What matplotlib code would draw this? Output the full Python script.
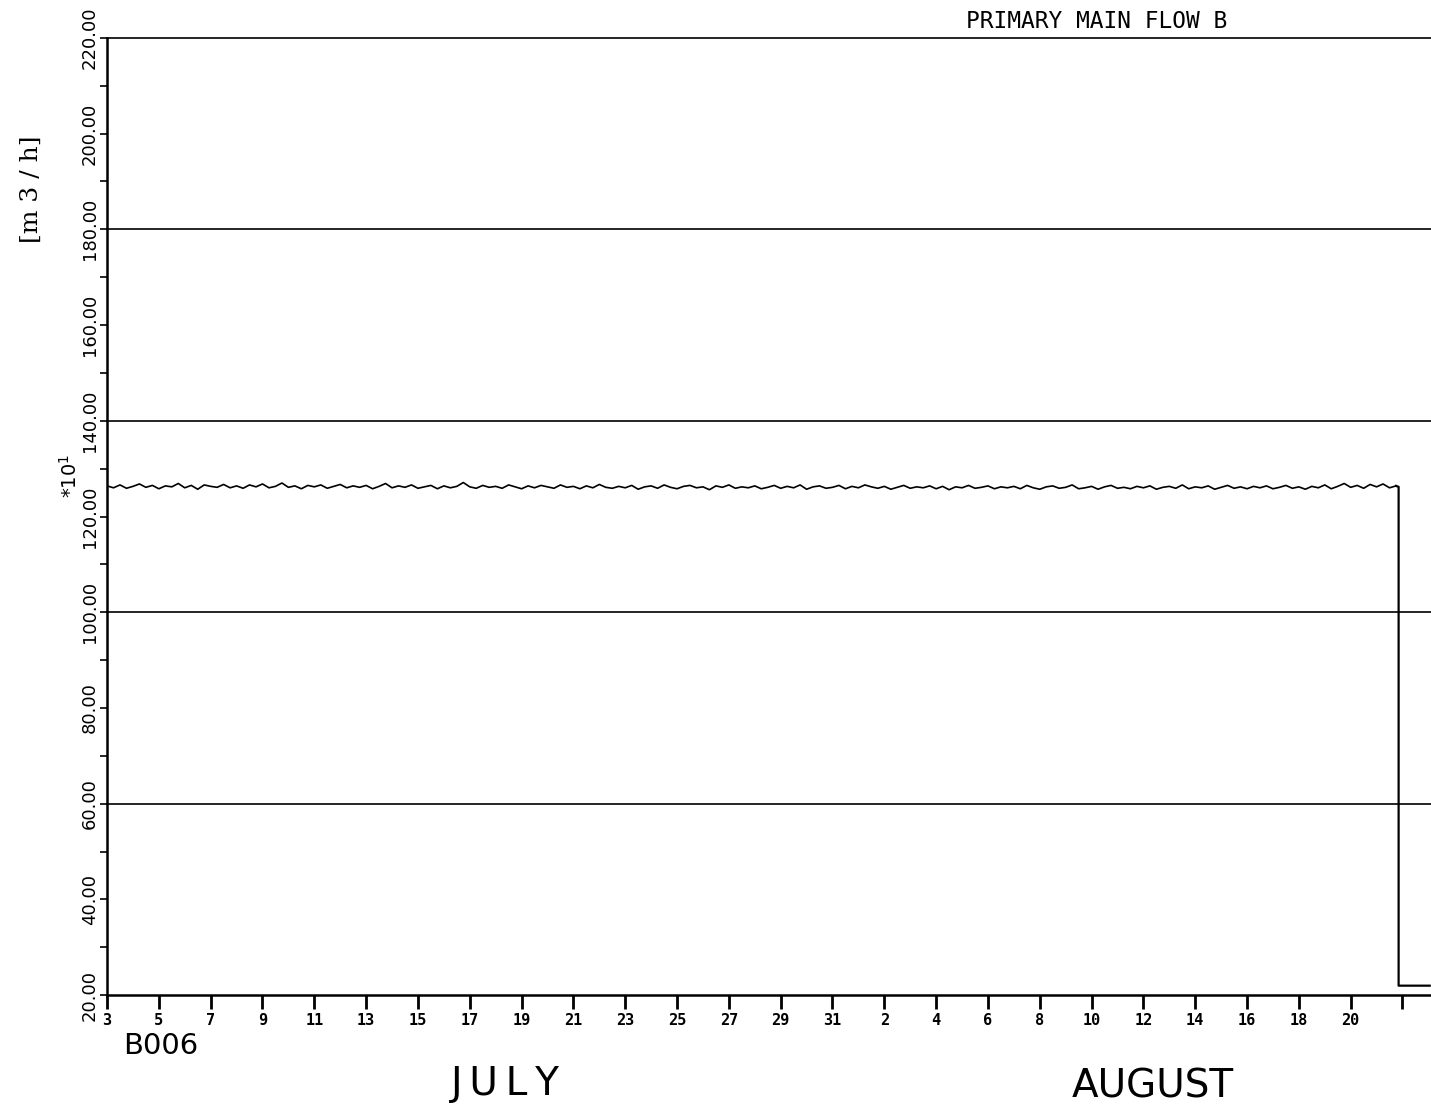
import numpy as np
import matplotlib
matplotlib.use("Agg")
import matplotlib.pyplot as plt

# flow readings (*10^1 m3/h), sampled every 6 hours from July 3
flow_values = [
    126.4, 126.0, 126.6, 125.9, 126.3, 126.8, 126.1, 126.5, 125.8, 126.4, 126.2, 126.9, 126.0, 126.5, 125.7, 126.6, 126.3, 126.1, 126.7, 126.0,
    126.4, 125.9, 126.6, 126.2, 126.8, 126.0, 126.3, 127.0, 126.1, 126.4, 125.8, 126.5, 126.2, 126.6, 125.9, 126.3, 126.7, 126.0, 126.4, 126.1,
    126.5, 125.8, 126.3, 126.9, 126.0, 126.4, 126.1, 126.6, 125.9, 126.2, 126.5, 125.8, 126.4, 126.0, 126.3, 127.1, 126.2, 125.9, 126.5, 126.1,
    126.3, 125.9, 126.6, 126.2, 125.8, 126.4, 126.0, 126.5, 126.2, 125.9, 126.6, 126.1, 126.3, 125.8, 126.4, 126.0, 126.7, 126.1, 125.9, 126.3,
    126.0, 126.5, 125.7, 126.2, 126.4, 125.9, 126.6, 126.1, 125.8, 126.3, 126.5, 126.0, 126.2, 125.6, 126.4, 126.1, 126.6, 125.9, 126.2, 126.0,
    126.4, 125.8, 126.1, 126.5, 125.9, 126.3, 126.0, 126.6, 125.7, 126.2, 126.4, 125.9, 126.1, 126.5, 125.8, 126.3, 126.0, 126.6, 126.2, 125.9,
    126.3, 125.7, 126.1, 126.5, 125.9, 126.2, 126.0, 126.4, 125.8, 126.3, 125.6, 126.2, 126.0, 126.5, 125.9, 126.1, 126.4, 125.8, 126.2, 126.0,
    126.3, 125.8, 126.5, 126.0, 125.7, 126.2, 126.4, 125.9, 126.1, 126.6, 125.8, 126.0, 126.3, 125.7, 126.2, 126.5, 125.9, 126.1, 125.8, 126.3,
    126.0, 126.4, 125.7, 126.1, 126.3, 125.9, 126.6, 125.8, 126.2, 126.0, 126.4, 125.7, 126.1, 126.5, 125.9, 126.2, 125.8, 126.3, 126.0, 126.4,
    125.8, 126.1, 126.5, 125.9, 126.2, 125.7, 126.3, 126.0, 126.6, 125.8, 126.3, 126.9, 126.1, 126.5, 125.9, 126.7, 126.2, 126.8, 126.0, 126.4,
]
flow_days = np.arange(len(flow_values)) * 0.25

# shutdown at the end of the record
drop_days = [49.75, 49.85, 49.85, 51.05]
drop_values = [126.4, 126.2, 22.0, 22.0]

tick_days = list(range(0, 51, 2))
tick_labels = ['3', '5', '7', '9', '11', '13', '15', '17', '19', '21', '23', '25', '27', '29', '31',
               '2', '4', '6', '8', '10', '12', '14', '16', '18', '20', '']
grid_values = [60, 100, 140, 180, 220]

fig = plt.figure(figsize=(14.31, 11.12), dpi=100)
ax = fig.add_axes([0.0748, 0.105, 0.9252, 0.861])

ax.plot(flow_days, flow_values, color='black', lw=1.2)
ax.plot(drop_days, drop_values, color='black', lw=1.6)

for g in grid_values:
    ax.axhline(g, color='black', lw=1.2, clip_on=False)

ax.set_xlim(0, 51.1)
ax.set_ylim(20, 220)

ax.spines['top'].set_visible(False)
ax.spines['right'].set_visible(False)
ax.spines['left'].set_linewidth(1.8)
ax.spines['bottom'].set_linewidth(1.8)

ax.set_xticks(tick_days)
ax.set_xticklabels(tick_labels, fontsize=11, fontweight='bold', family='DejaVu Sans Mono')
ax.tick_params(axis='x', direction='out', length=10, width=2, pad=3)

ax.set_yticks(np.arange(20, 221, 20))
ax.set_yticklabels([f'{v:.2f}' for v in np.arange(20, 221, 20)], fontsize=13)
ax.set_yticks(np.arange(30, 220, 20), minor=True)
ax.tick_params(axis='y', which='both', direction='out', length=5, width=1.2, pad=1, labelrotation=90)
for lbl in ax.get_yticklabels():
    lbl.set_va('center')

fig.text(0.014, 0.83, '[m 3 / h]', rotation=90, fontsize=18, family='DejaVu Serif',
         ha='left', va='center')
fig.text(0.0565, 0.572, r'$*10^1$', rotation=90, fontsize=14, ha='right', va='center')
fig.text(0.675, 0.981, 'PRIMARY MAIN FLOW B', fontsize=16.5, family='DejaVu Sans Mono',
         ha='left', va='center')
fig.text(0.086, 0.059, 'B006', fontsize=21, family='DejaVu Sans', ha='left', va='center')
fig.text(0.315, 0.025, 'J\u2009U\u2009L\u2009Y', fontsize=28, family='DejaVu Sans', ha='left', va='center')
fig.text(0.749, 0.023, 'AUGUST', fontsize=28, family='DejaVu Sans', ha='left', va='center')

fig.savefig('out.png', dpi=100)
